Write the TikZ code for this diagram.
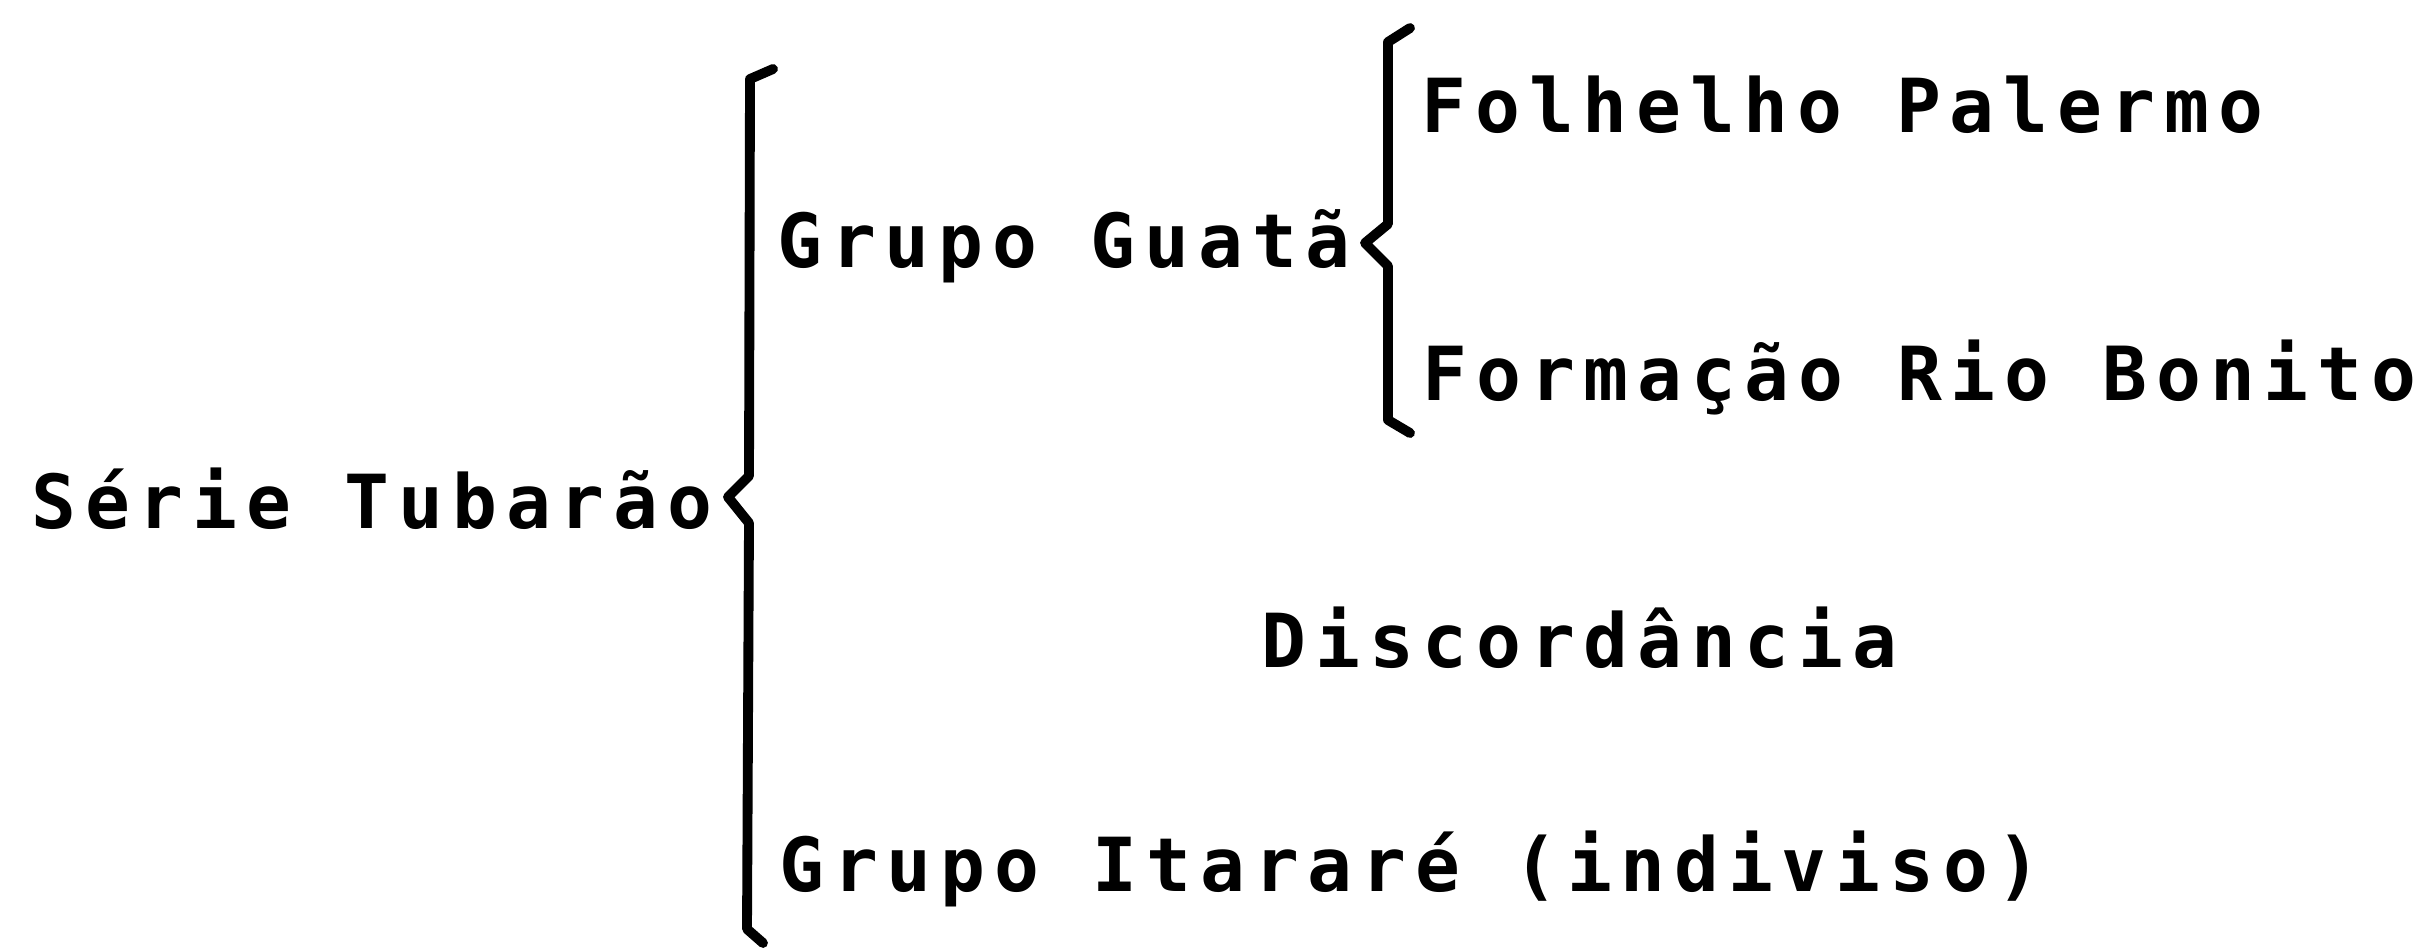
\documentclass[tikz,border=0pt]{standalone}
\usepackage{fontspec}
\newfontfamily\tw{DejaVu Sans Mono}[LetterSpace=11.8]
\begin{document}
\begin{tikzpicture}[x=0.01cm,y=-0.01cm,
  lbl/.style={anchor=base west, inner sep=0pt, font=\tw\bfseries\fontsize{21.2}{25}\selectfont},
  brace/.style={draw, line width=2.8pt, line cap=round, line join=round}]
\useasboundingbox (0,0) rectangle (2436,947);
\node[lbl] (serie) at (31,528) {Série Tubarão};
\node[lbl] (guata) at (777,267) {Grupo Guatã};
\node[lbl] (palermo) at (1421,132) {Folhelho Palermo};
\node[lbl] (bonito) at (1422,400) {Formação Rio Bonito};
\node[lbl] (disc) at (1261,667) {Discordância};
\node[lbl] (itarare) at (779,891) {Grupo Itararé (indiviso)};
% big brace
\path[brace] (773,69) -- (750,79) -- (749,476) -- (728,497) -- (749,523) -- (747,929) -- (763,943);
% small brace
\path[brace] (1410,28) -- (1388,42) -- (1388,224) -- (1365,243) -- (1388,266) -- (1388,420) -- (1410,433);
\end{tikzpicture}
\end{document}
